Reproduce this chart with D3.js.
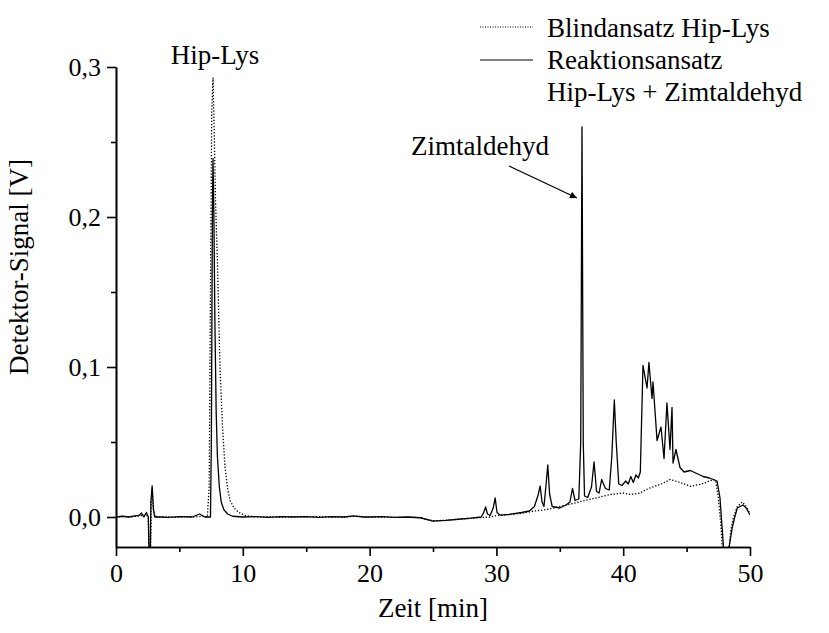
<!DOCTYPE html>
<html>
<head>
<meta charset="utf-8">
<script src="https://cdn.jsdelivr.net/npm/d3@7"></script>
<style>
  body { margin: 0; background: #fff; }
  svg text { font-family: 'Liberation Serif', 'Times New Roman', 'DejaVu Serif', 'Noto Serif', serif; fill: #000; }
</style>
</head>
<body>
<div id="chart"></div>
<script>

// Blindansatz Hip-Lys (dotted)
var blankTime = [0, 0.6, 1.2, 1.8, 2.1, 2.4, 2.55, 2.62, 2.72, 2.78, 2.86, 2.96, 3.1, 3.8, 4.6, 5.4, 6.2, 6.8, 7.2,
  7.35, 7.45, 7.55, 7.65, 7.75, 7.85, 8.0, 8.2, 8.4, 8.6, 8.8, 9.0, 9.3, 9.7, 10.2, 11, 12, 13, 14, 15, 16, 17, 18, 19,
  20, 21, 22, 23, 24, 25, 26, 27, 27.8, 28.5, 29.5, 30, 31, 32, 33, 34, 35, 36, 37, 38, 39, 40, 40.6, 41.3, 42, 43,
  43.7, 44.5, 45.3, 46.2, 47.1, 47.3, 47.5, 47.7, 47.85, 48.3, 48.5, 48.7, 49.0, 49.4, 49.7, 50];
var blankSignal = [0, 0.0004, 0, 0.0008, 0.001, 0.0015, 0, -0.03, -0.03, 0.01, 0.019, 0.005, 0, 0.0002, -0.0003, 0.0003, 0, 0.0005, 0,
  0.02, 0.15, 0.27, 0.293, 0.255, 0.21, 0.17, 0.1, 0.06, 0.033, 0.019, 0.011, 0.006, 0.003, 0.001, 0, 0.0003, -0.0002, 0.0002, 0, 0.0003, -0.0002, 0, 0.0005,
  0, 0, -0.0003, 0, -0.0005, -0.0025, -0.0022, -0.0015, -0.001, -0.0005, 0, 0.001, 0.0015, 0.0025, 0.004, 0.005, 0.007, 0.009, 0.011, 0.013, 0.015, 0.016, 0.015, 0.016, 0.019, 0.022,
  0.025, 0.023, 0.0205, 0.022, 0.025, 0.024, 0.013, -0.005, -0.025, -0.025, -0.008, 0, 0.007, 0.01, 0.007, 0.0025];

// Reaktionsansatz Hip-Lys + Zimtaldehyd (solid)
var reactTime = [0, 0.5, 1.0, 1.5, 1.8, 2.0, 2.2, 2.4, 2.55, 2.62, 2.7, 2.75, 2.85, 2.95, 3.05, 3.5, 4, 5, 6, 6.6, 7.0, 7.45,
  7.52, 7.6, 7.65, 7.72, 7.8, 7.9, 8.0, 8.15, 8.3, 8.5, 8.8, 9.2, 10, 11, 12, 13, 14, 15, 16, 17, 18, 18.7, 19.5, 20, 21, 22, 23, 24,
  25, 26, 27, 28, 28.8, 29.0, 29.15, 29.3, 29.5, 29.75, 29.9, 30.05, 30.3, 31, 32, 32.6, 33.0, 33.3, 33.45, 33.6, 33.75, 33.9, 34.05, 34.2, 34.4,
  35.0, 35.5, 35.8, 36.0, 36.2, 36.5, 36.65, 36.75, 36.85, 36.95, 37.2, 37.5, 37.7, 37.9, 38.1, 38.3, 38.6, 38.9, 39.1, 39.3, 39.45, 39.65,
  39.9, 40.2, 40.4, 40.6, 40.8, 41.0, 41.2, 41.35, 41.56, 41.88, 42.03, 42.27, 42.35, 42.67, 42.98, 43.22, 43.45, 43.69, 43.85, 43.93, 44.16,
  44.48, 44.8, 45.3, 45.8, 46.3, 46.8, 47.1, 47.4, 47.63, 47.8, 47.95, 48.26, 48.6, 48.8, 49.0, 49.45, 49.7, 50];
var reactSignal = [0, 0.0005, 0, 0.0008, 0.001, 0.0027, 0, 0.003, 0, -0.03, -0.03, 0.01, 0.0207, 0.005, 0, 0, -0.0003, 0.0003, 0, 0.002, 0, 0,
  0.05, 0.2, 0.239, 0.2, 0.13, 0.07, 0.04, 0.02, 0.01, 0.005, 0.002, 0.0005, 0, 0.0003, -0.0002, 0.0002, 0, 0.0003, -0.0002, 0.0002, 0, 0.0007, 0, 0, 0.0002, -0.0002, 0, -0.0005,
  -0.0027, -0.0022, -0.0015, -0.0008, 0, 0.003, 0.0067, 0.002, 0.001, 0.006, 0.0127, 0.003, 0.0012, 0.0018, 0.003, 0.004, 0.007, 0.015, 0.0207, 0.01, 0.007, 0.02, 0.0347, 0.015, 0.007,
  0.006, 0.008, 0.01, 0.019, 0.011, 0.012, 0.05, 0.26, 0.05, 0.014, 0.013, 0.02, 0.0367, 0.017, 0.016, 0.025, 0.019, 0.018, 0.04, 0.078, 0.05, 0.022,
  0.021, 0.024, 0.022, 0.027, 0.023, 0.028, 0.026, 0.03, 0.101, 0.086, 0.103, 0.079, 0.09, 0.051, 0.06, 0.039, 0.076, 0.045, 0.073, 0.036, 0.045,
  0.033, 0.03, 0.031, 0.029, 0.027, 0.026, 0.025, 0.024, 0.013, -0.007, -0.025, -0.025, -0.007, 0, 0.006, 0.008, 0.006, 0.0013];

var xTicks = [0, 10, 20, 30, 40, 50];
var xMinorTicks = [5, 15, 25, 35, 45];
var yTicks = [0, 0.1, 0.2, 0.3];
var yMinorTicks = [0.05, 0.15, 0.25];

var legendLabels = ["Blindansatz Hip-Lys", "Reaktionsansatz", "Hip-Lys + Zimtaldehyd"];

var serif = "'Liberation Serif', 'Times New Roman', 'DejaVu Serif', 'Noto Serif', serif";


var drawChart = {
    init: function(){

        var width = 829,
            height = 633;
        var margin = {top: 67, right: 79, bottom: 86, left: 116};

        var svg = d3.select("#chart").append("svg")
            .attr("width", width)
            .attr("height", height)
            .attr("font-family", serif)

        var x = d3.scaleLinear()
            .domain([0, 50])
            .range([margin.left, width - margin.right]);

        var y = d3.scaleLinear()
            .domain([-0.02, 0.3])
            .range([height - margin.bottom, margin.top]);

        var de = d3.formatLocale({decimal: ",", thousands: ".", grouping: [3], currency: ["", " €"]});
        var fmt = de.format(".1f");

        svg.append("clipPath")
            .attr("id", "plot-clip")
            .append("rect")
            .attr("x", x(0))
            .attr("y", 0)
            .attr("width", x(50) - x(0))
            .attr("height", y(-0.02));

        var line = d3.line()
            .x(function(d){ return x(d[0]) })
            .y(function(d){ return y(d[1]) });

        var blank = blankTime.map(function(t, i){ return [t, blankSignal[i]] });
        var react = reactTime.map(function(t, i){ return [t, reactSignal[i]] });

        var plot = svg.append("g").attr("clip-path", "url(#plot-clip)");

        plot.append("path")
            .attr("d", line(blank))
            .attr("fill", "none")
            .attr("stroke", "#000")
            .attr("stroke-width", 1.3)
            .attr("stroke-dasharray", "1.3,1.8");

        plot.append("path")
            .attr("d", line(react))
            .attr("fill", "none")
            .attr("stroke", "#000")
            .attr("stroke-width", 1.3)
            .attr("stroke-linejoin", "round");

        // axes
        svg.append("g")
            .attr("transform", "translate(0," + y(-0.02) + ")")
            .call(d3.axisBottom(x).tickValues(xTicks).tickSize(9).tickSizeOuter(0).tickPadding(8));

        svg.append("g")
            .attr("transform", "translate(0," + y(-0.02) + ")")
            .call(d3.axisBottom(x).tickValues(xMinorTicks).tickSize(5).tickFormat("").tickSizeOuter(0));

        svg.append("g")
            .attr("transform", "translate(" + x(0) + ",0)")
            .call(d3.axisLeft(y).tickValues(yTicks).tickFormat(fmt).tickSize(9).tickSizeOuter(0).tickPadding(6));

        svg.append("g")
            .attr("transform", "translate(" + x(0) + ",0)")
            .call(d3.axisLeft(y).tickValues(yMinorTicks).tickSize(5).tickFormat("").tickSizeOuter(0));

        svg.selectAll("g").attr("font-family", serif);

        svg.selectAll(".domain, .tick line")
            .attr("stroke", "#000")
            .attr("stroke-width", 1.6);

        svg.selectAll(".tick text")
            .style("font-size", "26px");

        svg.append("text")
            .attr("x", (x(0) + x(50)) / 2)
            .attr("y", 617)
            .attr("text-anchor", "middle")
            .style("font-size", "27px")
            .text("Zeit [min]");

        svg.append("text")
            .attr("transform", "translate(28,267) rotate(-90)")
            .attr("text-anchor", "middle")
            .style("font-size", "27px")
            .text("Detektor-Signal [V]");

        // peak labels
        svg.append("text")
            .attr("x", 215)
            .attr("y", 64)
            .attr("text-anchor", "middle")
            .style("font-size", "27px")
            .text("Hip-Lys");

        svg.append("text")
            .attr("x", 480)
            .attr("y", 155)
            .attr("text-anchor", "middle")
            .style("font-size", "27px")
            .text("Zimtaldehyd");

        svg.append("defs").append("marker")
            .attr("id", "arrow")
            .attr("viewBox", "0 0 10 10")
            .attr("refX", 10)
            .attr("refY", 5)
            .attr("markerWidth", 10)
            .attr("markerHeight", 7)
            .attr("markerUnits", "userSpaceOnUse")
            .attr("orient", "auto")
            .append("path")
            .attr("d", "M0,0 L10,5 L0,10 Z")
            .attr("fill", "#000");

        svg.append("line")
            .attr("x1", 509)
            .attr("y1", 166)
            .attr("x2", x(36.35))
            .attr("y2", 198)
            .attr("stroke", "#000")
            .attr("stroke-width", 1.3)
            .attr("marker-end", "url(#arrow)");

        // legend
        var legend = svg.append("g");

        legend.append("line")
            .attr("x1", 480).attr("x2", 533)
            .attr("y1", 27).attr("y2", 27)
            .attr("stroke", "#000")
            .attr("stroke-width", 1)
            .attr("stroke-dasharray", "1,1.5");

        legend.append("line")
            .attr("x1", 480).attr("x2", 533)
            .attr("y1", 60).attr("y2", 60)
            .attr("stroke", "#000")
            .attr("stroke-width", 1.2);

        legend.selectAll(".legend-text")
            .data(legendLabels)
            .enter()
            .append("text")
            .attr("class", "legend-text")
            .attr("x", 547)
            .attr("y", function(d, i){ return 37 + i * 32 })
            .style("font-size", "27px")
            .text(function(d){ return d });
    }
}

drawChart.init();

</script>
</body>
</html>
